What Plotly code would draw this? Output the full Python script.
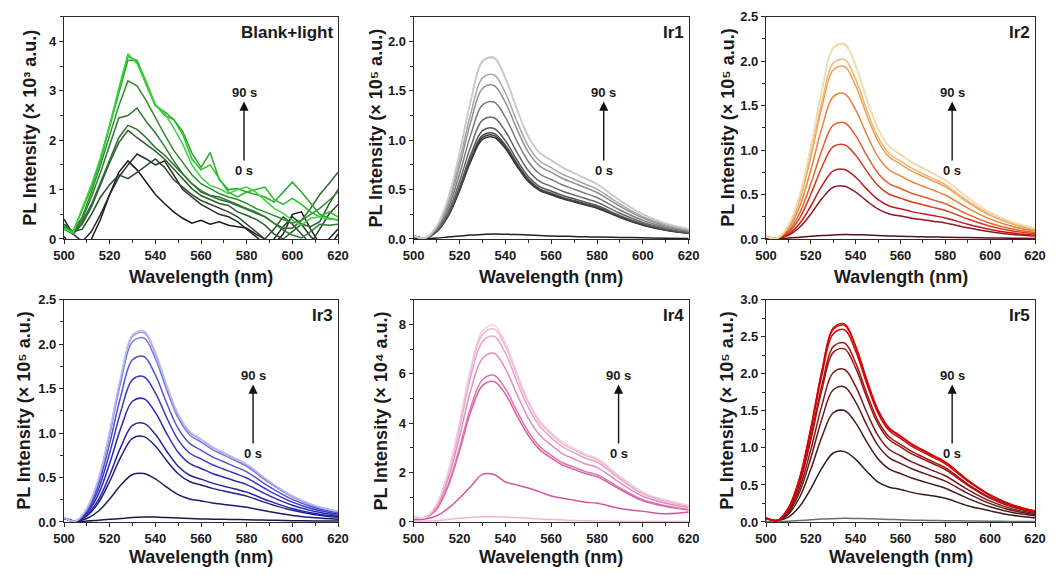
import plotly.graph_objects as go

# ---------------- data ----------------
WL_BLANK = [500, 504, 508, 512, 516, 520, 524, 528, 532, 536, 540, 544, 548, 552, 556, 560,
            564, 568, 572, 576, 580, 584, 588, 592, 596, 600, 604, 608, 612, 616, 620]
WL = [500, 505, 510, 515, 520, 525, 530, 535, 540, 545, 550, 555, 560, 565, 570, 575, 580,
      590, 600, 610, 620]

# Blank+light (x 10^3 a.u.), 0 s -> 90 s
BLANK = [
    [0.05, -0.2, -0.3, 0.0, 0.4, 0.9, 1.35, 1.58, 1.4, 1.15, 0.9, 0.72, 0.55, 0.42, 0.32, 0.38, 0.3, 0.35, 0.28, 0.25, 0.22, 0.1, 0.0, -0.1, 0.1, 0.5, 0.55, 0.2, -0.1, -0.2, 0.1],
    [0.4, 0.1, -0.05, 0.15, 0.5, 0.9, 1.25, 1.5, 1.72, 1.62, 1.5, 1.58, 1.3, 1.0, 0.85, 0.7, 0.6, 0.5, 0.45, 0.35, 0.2, 0.05, -0.1, 0.0, 0.25, 0.45, 0.3, 0.05, -0.1, 0.0, 0.2],
    [0.3, 0.15, 0.2, 0.5, 0.85, 1.1, 1.3, 1.22, 1.35, 1.48, 1.62, 1.45, 1.2, 1.05, 0.9, 0.78, 0.7, 0.62, 0.55, 0.45, 0.3, 0.15, 0.0, 0.2, 0.45, 0.3, 0.1, -0.1, 0.2, 0.5, 0.7],
    [0.2, 0.1, 0.3, 0.65, 1.1, 1.55, 1.95, 2.2, 2.05, 1.92, 1.78, 1.62, 1.42, 1.2, 1.02, 0.88, 0.8, 0.72, 0.68, 0.55, 0.48, 0.4, 0.28, 0.1, 0.0, 0.15, 0.3, 0.25, 0.35, 0.7, 1.0],
    [0.25, 0.12, 0.35, 0.7, 1.15, 1.6, 2.05, 2.3, 2.22, 2.05, 1.85, 1.7, 1.5, 1.3, 1.12, 0.95, 0.88, 0.8, 0.75, 0.68, 0.6, 0.52, 0.45, 0.32, 0.22, 0.22, 0.38, 0.62, 0.9, 1.12, 1.35],
    [0.2, 0.15, 0.4, 0.85, 1.35, 1.9, 2.45, 2.5, 2.65, 2.38, 2.15, 1.88, 1.58, 1.32, 1.12, 0.98, 0.88, 0.85, 0.78, 0.7, 0.62, 0.55, 0.45, 0.32, 0.18, 0.08, 0.02, 0.15, 0.3, 0.28, 0.3],
    [0.25, 0.15, 0.45, 0.95, 1.5, 2.1, 2.7, 3.2, 3.1, 2.8, 2.45, 2.12, 1.8, 1.55, 1.3, 1.12, 1.02, 0.92, 0.85, 0.8, 0.72, 0.62, 0.55, 0.48, 0.4, 0.32, 0.38, 0.5, 0.62, 0.78, 0.95],
    [0.25, 0.15, 0.6, 1.05, 1.6, 2.25, 2.95, 3.62, 3.62, 3.12, 2.7, 2.58, 2.42, 2.18, 1.74, 1.45, 1.75, 1.2, 1.0, 1.02, 0.95, 0.9, 0.85, 0.75, 0.95, 1.15, 0.95, 0.72, 0.5, 0.42, 0.38],
    [0.22, 0.15, 0.6, 1.05, 1.62, 2.3, 3.0, 3.7, 3.6, 3.18, 2.72, 2.5, 2.42, 2.12, 1.62, 1.4, 1.5, 1.22, 0.95, 0.85, 0.95, 1.0, 1.05, 0.8, 0.7, 0.82, 0.7, 0.55, 0.45, 0.55, 0.45],
    [0.2, 0.12, 0.62, 1.1, 1.65, 2.3, 3.05, 3.75, 3.55, 3.15, 2.72, 2.55, 2.25, 1.92, 1.5, 1.25, 1.08, 1.02, 0.92, 1.0, 1.05, 0.95, 0.78, 0.62, 0.52, 0.38, 0.28, 0.42, 0.45, 0.4, 0.4],
]
BLANK_COLORS = ["#1a1a1a", "#262e26", "#2b482b", "#2e5c2e", "#2f6c34", "#2e7b32",
                "#2f8d30", "#2aa82a", "#22c022", "#3fd23f"]

# Ir1 (x 10^5 a.u.)
IR1 = [
    [0.01, 0.005, 0.01, 0.02, 0.03, 0.04, 0.045, 0.05, 0.048, 0.045, 0.04, 0.035, 0.03, 0.028, 0.025, 0.022, 0.02, 0.016, 0.012, 0.008, 0.006],
    [0.03, 0.01, 0.073, 0.229, 0.489, 0.790, 1.009, 1.030, 0.915, 0.738, 0.582, 0.489, 0.447, 0.406, 0.374, 0.343, 0.312, 0.218, 0.140, 0.088, 0.057],
    [0.03, 0.01, 0.074, 0.233, 0.498, 0.806, 1.028, 1.049, 0.933, 0.753, 0.594, 0.498, 0.456, 0.413, 0.382, 0.350, 0.318, 0.223, 0.143, 0.090, 0.058],
    [0.03, 0.01, 0.076, 0.238, 0.508, 0.821, 1.048, 1.069, 0.950, 0.767, 0.605, 0.508, 0.464, 0.421, 0.389, 0.356, 0.324, 0.227, 0.146, 0.092, 0.059],
    [0.03, 0.01, 0.079, 0.249, 0.531, 0.859, 1.096, 1.119, 0.994, 0.802, 0.633, 0.531, 0.486, 0.441, 0.407, 0.373, 0.339, 0.237, 0.153, 0.096, 0.062],
    [0.03, 0.01, 0.087, 0.273, 0.583, 0.942, 1.203, 1.228, 1.091, 0.880, 0.694, 0.583, 0.533, 0.484, 0.446, 0.409, 0.372, 0.260, 0.167, 0.105, 0.068],
    [0.03, 0.01, 0.098, 0.308, 0.658, 1.064, 1.358, 1.386, 1.232, 0.994, 0.784, 0.658, 0.602, 0.546, 0.504, 0.462, 0.420, 0.294, 0.189, 0.119, 0.077],
    [0.03, 0.01, 0.110, 0.345, 0.738, 1.193, 1.523, 1.554, 1.382, 1.115, 0.879, 0.738, 0.675, 0.612, 0.565, 0.518, 0.471, 0.330, 0.212, 0.133, 0.086],
    [0.03, 0.01, 0.118, 0.370, 0.790, 1.277, 1.630, 1.663, 1.478, 1.193, 0.941, 0.790, 0.722, 0.655, 0.605, 0.554, 0.504, 0.353, 0.227, 0.143, 0.092],
    [0.03, 0.01, 0.130, 0.407, 0.870, 1.406, 1.795, 1.832, 1.628, 1.314, 1.036, 0.870, 0.796, 0.722, 0.666, 0.611, 0.555, 0.389, 0.250, 0.157, 0.102],
    [0.03, 0.01, 0.130, 0.409, 0.874, 1.414, 1.804, 1.841, 1.637, 1.321, 1.042, 0.874, 0.800, 0.725, 0.670, 0.614, 0.558, 0.391, 0.251, 0.158, 0.102],
]
IR1_COLORS = ["#222222", "#333333", "#3d3d3d", "#474747", "#555555", "#666666",
              "#7a7a7a", "#909090", "#a6a6a6", "#bbbbbb", "#cccccc"]

# Ir2 (x 10^5 a.u.)
IR2 = [
    [0.01, 0.005, 0.01, 0.02, 0.03, 0.04, 0.045, 0.05, 0.048, 0.045, 0.04, 0.035, 0.03, 0.028, 0.025, 0.022, 0.02, 0.016, 0.012, 0.008, 0.006],
    [0.02, 0.01, 0.042, 0.132, 0.282, 0.456, 0.582, 0.594, 0.528, 0.426, 0.336, 0.282, 0.258, 0.234, 0.216, 0.198, 0.180, 0.126, 0.081, 0.051, 0.033],
    [0.02, 0.01, 0.055, 0.174, 0.371, 0.600, 0.766, 0.782, 0.695, 0.561, 0.442, 0.371, 0.340, 0.308, 0.284, 0.261, 0.237, 0.166, 0.107, 0.067, 0.043],
    [0.03, 0.01, 0.075, 0.235, 0.503, 0.813, 1.038, 1.059, 0.942, 0.760, 0.599, 0.503, 0.460, 0.417, 0.385, 0.353, 0.321, 0.225, 0.144, 0.091, 0.059],
    [0.03, 0.01, 0.092, 0.290, 0.620, 1.003, 1.280, 1.307, 1.162, 0.937, 0.739, 0.620, 0.568, 0.515, 0.475, 0.436, 0.396, 0.277, 0.178, 0.112, 0.073],
    [0.03, 0.01, 0.116, 0.363, 0.776, 1.254, 1.601, 1.634, 1.452, 1.172, 0.924, 0.776, 0.710, 0.644, 0.594, 0.545, 0.495, 0.347, 0.223, 0.140, 0.091],
    [0.03, 0.01, 0.137, 0.431, 0.921, 1.490, 1.901, 1.940, 1.725, 1.392, 1.098, 0.921, 0.843, 0.764, 0.706, 0.647, 0.588, 0.412, 0.265, 0.167, 0.108],
    [0.03, 0.01, 0.143, 0.449, 0.959, 1.550, 1.979, 2.020, 1.795, 1.448, 1.142, 0.959, 0.877, 0.796, 0.734, 0.673, 0.612, 0.428, 0.275, 0.173, 0.112],
    [0.03, 0.01, 0.155, 0.486, 1.039, 1.680, 2.144, 2.188, 1.945, 1.569, 1.238, 1.039, 0.950, 0.862, 0.796, 0.729, 0.663, 0.464, 0.298, 0.188, 0.122],
    [0.03, 0.01, 0.155, 0.488, 1.043, 1.687, 2.153, 2.198, 1.954, 1.576, 1.243, 1.043, 0.955, 0.866, 0.799, 0.733, 0.666, 0.466, 0.300, 0.189, 0.122],
]
IR2_COLORS = ["#5a0f14", "#8b1a1f", "#c4161c", "#d83a1e", "#e2622a", "#e8823a",
              "#eda052", "#f0b474", "#f2cc94", "#efdfb4"]

# Ir3 (x 10^5 a.u.)
IR3 = [
    [0.04, 0.01, 0.01, 0.02, 0.03, 0.04, 0.05, 0.055, 0.055, 0.05, 0.045, 0.04, 0.035, 0.032, 0.03, 0.028, 0.025, 0.02, 0.015, 0.012, 0.01],
    [0.04, 0.01, 0.039, 0.121, 0.259, 0.418, 0.534, 0.545, 0.484, 0.391, 0.308, 0.259, 0.237, 0.215, 0.198, 0.182, 0.165, 0.116, 0.074, 0.047, 0.030],
    [0.05, 0.01, 0.068, 0.213, 0.456, 0.737, 0.941, 0.960, 0.854, 0.689, 0.543, 0.456, 0.417, 0.378, 0.349, 0.320, 0.291, 0.204, 0.131, 0.082, 0.053],
    [0.05, 0.01, 0.078, 0.246, 0.526, 0.851, 1.086, 1.109, 0.986, 0.795, 0.627, 0.526, 0.482, 0.437, 0.403, 0.370, 0.336, 0.235, 0.151, 0.095, 0.062],
    [0.05, 0.01, 0.098, 0.308, 0.658, 1.064, 1.358, 1.386, 1.232, 0.994, 0.784, 0.658, 0.602, 0.546, 0.504, 0.462, 0.420, 0.294, 0.189, 0.119, 0.077],
    [0.05, 0.01, 0.116, 0.363, 0.776, 1.254, 1.601, 1.634, 1.452, 1.172, 0.924, 0.776, 0.710, 0.644, 0.594, 0.545, 0.495, 0.347, 0.223, 0.140, 0.091],
    [0.05, 0.01, 0.132, 0.414, 0.884, 1.429, 1.824, 1.861, 1.654, 1.335, 1.053, 0.884, 0.808, 0.733, 0.677, 0.620, 0.564, 0.395, 0.254, 0.160, 0.103],
    [0.05, 0.01, 0.146, 0.460, 0.982, 1.588, 2.027, 2.069, 1.839, 1.484, 1.170, 0.982, 0.899, 0.815, 0.752, 0.690, 0.627, 0.439, 0.282, 0.178, 0.115],
    [0.05, 0.01, 0.151, 0.473, 1.011, 1.634, 2.086, 2.129, 1.892, 1.527, 1.204, 1.011, 0.925, 0.839, 0.774, 0.710, 0.645, 0.452, 0.290, 0.183, 0.118],
    [0.05, 0.01, 0.152, 0.477, 1.020, 1.649, 2.105, 2.148, 1.910, 1.541, 1.215, 1.020, 0.933, 0.846, 0.781, 0.716, 0.651, 0.456, 0.293, 0.184, 0.119],
]
IR3_COLORS = ["#1a1a48", "#1c1c66", "#1f1f88", "#2222a4", "#2a2ab8", "#3838c6",
              "#5252d2", "#7878de", "#9c9ce8", "#bcbcf0"]

# Ir4 (x 10^4 a.u.)
IR4 = [
    [0.05, 0.03, 0.05, 0.1, 0.15, 0.19, 0.21, 0.21, 0.2, 0.18, 0.15, 0.12, 0.1, 0.08, 0.06, 0.05, 0.04, 0.03, 0.02, 0.02, 0.02],
    [0.1, 0.12, 0.25, 0.55, 0.97, 1.45, 1.93, 1.92, 1.62, 1.5, 1.38, 1.22, 1.05, 0.96, 0.88, 0.8, 0.76, 0.55, 0.43, 0.33, 0.4],
    [0.2, 0.18, 0.52, 1.44, 2.88, 4.49, 5.52, 5.69, 5.18, 4.31, 3.51, 2.93, 2.59, 2.30, 2.13, 1.96, 1.84, 1.32, 0.86, 0.63, 0.49],
    [0.2, 0.18, 0.54, 1.50, 3.00, 4.68, 5.76, 5.94, 5.40, 4.50, 3.66, 3.06, 2.70, 2.40, 2.22, 2.04, 1.92, 1.38, 0.90, 0.66, 0.51],
    [0.2, 0.18, 0.62, 1.73, 3.45, 5.38, 6.62, 6.83, 6.21, 5.18, 4.21, 3.52, 3.11, 2.76, 2.55, 2.35, 2.21, 1.59, 1.04, 0.76, 0.59],
    [0.2, 0.18, 0.68, 1.90, 3.80, 5.93, 7.30, 7.52, 6.84, 5.70, 4.64, 3.88, 3.42, 3.04, 2.81, 2.58, 2.43, 1.75, 1.14, 0.84, 0.65],
    [0.2, 0.18, 0.71, 1.98, 3.95, 6.16, 7.58, 7.82, 7.11, 5.93, 4.82, 4.03, 3.56, 3.16, 2.92, 2.69, 2.53, 1.82, 1.19, 0.87, 0.67],
    [0.2, 0.18, 0.72, 2.01, 4.03, 6.28, 7.73, 7.97, 7.25, 6.04, 4.91, 4.11, 3.62, 3.22, 2.98, 2.74, 2.58, 1.85, 1.21, 0.89, 0.68],
]
IR4_COLORS = ["#f2b6d4", "#d8559c", "#da5ea2", "#df74ae", "#e38cbb", "#e9a3c8",
              "#eeb8d4", "#f3cbe0"]

# Ir5 (x 10^5 a.u.)
IR5 = [
    [0.01, 0.005, 0.01, 0.02, 0.03, 0.04, 0.045, 0.05, 0.048, 0.045, 0.04, 0.035, 0.03, 0.025, 0.022, 0.02, 0.018, 0.014, 0.01, 0.008, 0.006],
    [0.05, 0.02, 0.067, 0.211, 0.451, 0.730, 0.931, 0.950, 0.845, 0.682, 0.538, 0.470, 0.440, 0.400, 0.370, 0.350, 0.320, 0.220, 0.150, 0.090, 0.055],
    [0.05, 0.02, 0.106, 0.334, 0.714, 1.155, 1.474, 1.505, 1.338, 1.079, 0.851, 0.714, 0.654, 0.593, 0.547, 0.502, 0.456, 0.319, 0.205, 0.129, 0.084],
    [0.05, 0.02, 0.129, 0.405, 0.865, 1.398, 1.785, 1.822, 1.619, 1.306, 1.030, 0.865, 0.791, 0.718, 0.662, 0.607, 0.552, 0.386, 0.248, 0.156, 0.101],
    [0.05, 0.02, 0.146, 0.458, 0.978, 1.581, 2.018, 2.059, 1.830, 1.477, 1.165, 0.978, 0.894, 0.811, 0.749, 0.686, 0.624, 0.437, 0.281, 0.177, 0.114],
    [0.05, 0.02, 0.165, 0.519, 1.109, 1.794, 2.289, 2.336, 2.077, 1.676, 1.322, 1.109, 1.015, 0.920, 0.850, 0.779, 0.708, 0.496, 0.319, 0.201, 0.130],
    [0.05, 0.02, 0.171, 0.537, 1.147, 1.854, 2.367, 2.416, 2.147, 1.732, 1.366, 1.147, 1.049, 0.952, 0.878, 0.805, 0.732, 0.512, 0.329, 0.207, 0.134],
    [0.05, 0.02, 0.183, 0.576, 1.231, 1.991, 2.541, 2.594, 2.306, 1.860, 1.467, 1.231, 1.127, 1.022, 0.943, 0.865, 0.786, 0.550, 0.354, 0.223, 0.144],
    [0.05, 0.02, 0.188, 0.590, 1.260, 2.037, 2.600, 2.653, 2.358, 1.903, 1.501, 1.260, 1.152, 1.045, 0.965, 0.884, 0.804, 0.563, 0.362, 0.228, 0.147],
    [0.05, 0.02, 0.189, 0.594, 1.269, 2.052, 2.619, 2.673, 2.376, 1.917, 1.512, 1.269, 1.161, 1.053, 0.972, 0.891, 0.810, 0.567, 0.365, 0.230, 0.149],
]
IR5_COLORS = ["#6e6e6e", "#3a1a1a", "#4e1a1a", "#661a1a", "#7c1818", "#961616",
              "#ac1313", "#c41010", "#d40a0a", "#e00000"]

PANEL_LABELS = ["Blank+light", "Ir1", "Ir2", "Ir3", "Ir4", "Ir5"]
X_TITLES = ["Wavelength (nm)", "Wavelength (nm)", "Wavlength (nm)",
            "Wavelength (nm)", "Wavelength (nm)", "Wavelength (nm)"]
Y_TITLES = ["PL Intensity (× 10³ a.u.)", "PL Intensity (× 10⁵ a.u.)",
            "PL Intensity (× 10⁵ a.u.)", "PL Intensity (× 10⁵ a.u.)",
            "PL Intensity (× 10⁴ a.u.)", "PL Intensity (× 10⁵ a.u.)"]
Y_RANGES = [[0, 4.5], [0, 2.25], [0, 2.5], [0, 2.5], [0, 9], [0, 3.0]]
Y_DTICK = [1, 0.5, 0.5, 0.5, 2, 0.5]
Y_FMT = [".0f", ".1f", ".1f", ".1f", ".0f", ".1f"]
TIME_LABELS = ["90 s", "0 s"]

# ---------------- layout geometry ----------------
# the page body keeps its default 8 px margin, so the figure is sized to fit inside it
FIG_W, FIG_H = 1040, 559
COLS = [[0.05385, 0.31731], [0.39010, 0.65452], [0.72885, 0.98750]]
ROWS = [[0.58676, 0.98444], [0.08050, 0.47818]]
ARROW_X = [0.657, 0.691, 0.692, 0.69, 0.745, 0.692]
YTITLE_SHIFT = [-34, -38, -38, -40, -33, -39]
XTITLE_SHIFT = [-38, -38, -38, -35, -35, -35]

FONT = "Liberation Sans, Arial, Helvetica, sans-serif"
AXC = "#2b2b2b"


def bold(s):
    return dict(family=FONT, size=s, color="#1a1a1a", weight="bold")


fig = go.Figure()

panels = [
    (WL_BLANK, BLANK, BLANK_COLORS, "linear"),
    (WL, IR1, IR1_COLORS, "spline"),
    (WL, IR2, IR2_COLORS, "spline"),
    (WL, IR3, IR3_COLORS, "spline"),
    (WL, IR4, IR4_COLORS, "spline"),
    (WL, IR5, IR5_COLORS, "spline"),
]

annotations = []
for i, (xs, curves, colors, shape) in enumerate(panels):
    n = "" if i == 0 else str(i + 1)
    for ys, c in zip(curves, colors):
        fig.add_trace(go.Scatter(x=xs, y=ys, mode="lines",
                                 line=dict(color=c, width=1.5, shape=shape),
                                 xaxis="x" + n, yaxis="y" + n,
                                 hoverinfo="skip", showlegend=False))
    row, col = divmod(i, 3)
    common = dict(showline=True, linecolor=AXC, linewidth=1.3, mirror=True,
                  ticks="outside", ticklen=4, tickwidth=1.2, tickcolor=AXC,
                  showgrid=False, zeroline=False, automargin=False,
                  tickfont=bold(13))
    fig.layout["xaxis" + n] = dict(
        domain=COLS[col], anchor="y" + n, range=[500, 620], tick0=500, dtick=20,
        minor=dict(ticks="outside", ticklen=2.5, tickwidth=1, tickcolor=AXC, dtick=10, tick0=500),
        **common)
    fig.layout["yaxis" + n] = dict(
        domain=ROWS[row], anchor="x" + n, range=Y_RANGES[i], tick0=0, dtick=Y_DTICK[i],
        tickformat=Y_FMT[i],
        minor=dict(ticks="outside", ticklen=2.5, tickwidth=1, tickcolor=AXC,
                   dtick=Y_DTICK[i] / 2, tick0=0),
        **common)
    xd, yd = "x" + n + " domain", "y" + n + " domain"
    annotations += [
        dict(text=PANEL_LABELS[i], xref=xd, yref=yd, x=1, y=1, xanchor="right",
             yanchor="top", xshift=-3, yshift=-4, showarrow=False, font=bold(17)),
        dict(text=X_TITLES[i], xref=xd, yref=yd, x=0.5, y=0, xanchor="center",
             yanchor="middle", yshift=XTITLE_SHIFT[i], showarrow=False, font=bold(18)),
        dict(text=Y_TITLES[i], xref=xd, yref=yd,
             x=0, y=0.5, xanchor="center", yanchor="middle", xshift=YTITLE_SHIFT[i],
             textangle=-90, showarrow=False, font=bold(18)),
        dict(text=TIME_LABELS[0], xref=xd, yref=yd, x=ARROW_X[i], y=0.66,
             xanchor="center", yanchor="middle", showarrow=False, font=bold(13)),
        # "0 s" label carries the upward arrow that points to the "90 s" label
        dict(text=TIME_LABELS[1], xref=xd, yref=yd, x=ARROW_X[i], y=0.618,
             ax=0, ay=69, showarrow=True, arrowhead=2, arrowsize=1.3, arrowwidth=1.4,
             arrowcolor="#111111", standoff=0, startstandoff=1, font=bold(13)),
    ]

fig.update_layout(
    template="none",
    width=FIG_W, height=FIG_H,
    margin=dict(l=0, r=0, t=0, b=0, autoexpand=False),
    paper_bgcolor="white", plot_bgcolor="white",
    showlegend=False,
    annotations=annotations,
    font=dict(family=FONT),
)

fig.write_html("out.html")
